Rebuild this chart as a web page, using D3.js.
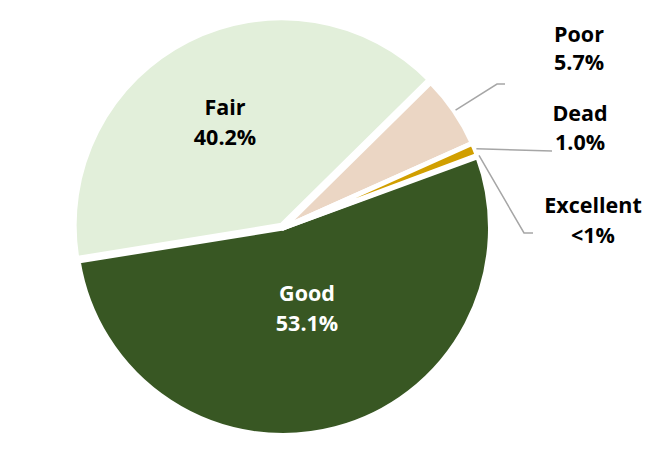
<!DOCTYPE html>
<html>
<head>
<meta charset="utf-8">
<script src="https://cdn.jsdelivr.net/npm/d3@7"></script>
<style>
  html, body { margin: 0; padding: 0; background: #fff; }
  svg { display: block; }
  text { font-family: "Open Sans", "Liberation Sans", sans-serif; font-weight: bold; font-size: 21.5px; }
</style>
</head>
<body>
<svg id="chart" width="656" height="454"></svg>
<script>
// Data (order drawn clockwise, as in the original)
const categories = ["Excellent", "Good", "Fair", "Poor", "Dead"];
const values = [0.1, 53.1, 40.2, 5.7, 1.0];
const valueLabels = ["<1%", "53.1%", "40.2%", "5.7%", "1.0%"];
const colors = ["#7F9A5B", "#385723", "#E2EFDA", "#EBD6C4", "#D19F00"];
const explode = [0, 0, 3, 0, 0];

const width = 656, height = 454;
const cx = 283, cy = 228;
const radius = 207.5;
const startDeg = 69.5;

const svg = d3.select("#chart");
const g = svg.append("g").attr("transform", `translate(${cx},${cy})`);

const data = categories.map((c, i) => ({ name: c, value: values[i], label: valueLabels[i], color: colors[i], explode: explode[i] }));

const pie = d3.pie().sort(null).value(d => d.value)
  .startAngle(startDeg * Math.PI / 180)
  .endAngle(startDeg * Math.PI / 180 + 2 * Math.PI);
const arcs = pie(data);

const arc = d3.arc().innerRadius(0).outerRadius(radius);

g.selectAll("path.slice").data(arcs).enter().append("path")
  .attr("class", "slice")
  .attr("d", arc)
  .attr("transform", d => {
    const mid = (d.startAngle + d.endAngle) / 2;
    const e = d.data.explode;
    return `translate(${e * Math.sin(mid)},${-e * Math.cos(mid)})`;
  })
  .attr("fill", d => d.data.color)
  .attr("stroke", "#fff")
  .attr("stroke-width", 5)
  .attr("stroke-linejoin", "round");

// Label layout (positions in page coords)
const labelPos = {
  "Fair": { x: 225, y1: 115, y2: 145, fill: "#000" },
  "Good": { x: 307, y1: 301, y2: 331, fill: "#fff" },
  "Poor": { x: 579, y1: 42, y2: 70, fill: "#000" },
  "Dead": { x: 580, y1: 121, y2: 150, fill: "#000" },
  "Excellent": { x: 593, y1: 213, y2: 243, fill: "#000" }
};
// leader line bends (page coords)
const leaders = {
  "Poor": [[497, 84], [505, 84]],
  "Dead": [[552, 151]],
  "Excellent": [[524, 233], [533, 233]]
};

arcs.forEach(a => {
  const name = a.data.name;
  if (leaders[name]) {
    const mid = (a.startAngle + a.endAngle) / 2;
    const r0 = 209;
    const p0 = [cx + r0 * Math.sin(mid), cy - r0 * Math.cos(mid)];
    const pts = [p0].concat(leaders[name]);
    svg.append("path")
      .attr("d", d3.line()(pts))
      .attr("fill", "none")
      .attr("stroke", "#A6A6A6")
      .attr("stroke-width", 1.5);
  }
});

arcs.forEach(a => {
  const p = labelPos[a.data.name];
  const t = svg.append("g").attr("fill", p.fill).attr("text-anchor", "middle");
  t.append("text").attr("x", p.x).attr("y", p.y1).text(a.data.name);
  t.append("text").attr("x", p.x).attr("y", p.y2).text(a.data.label);
});
</script>
</body>
</html>
